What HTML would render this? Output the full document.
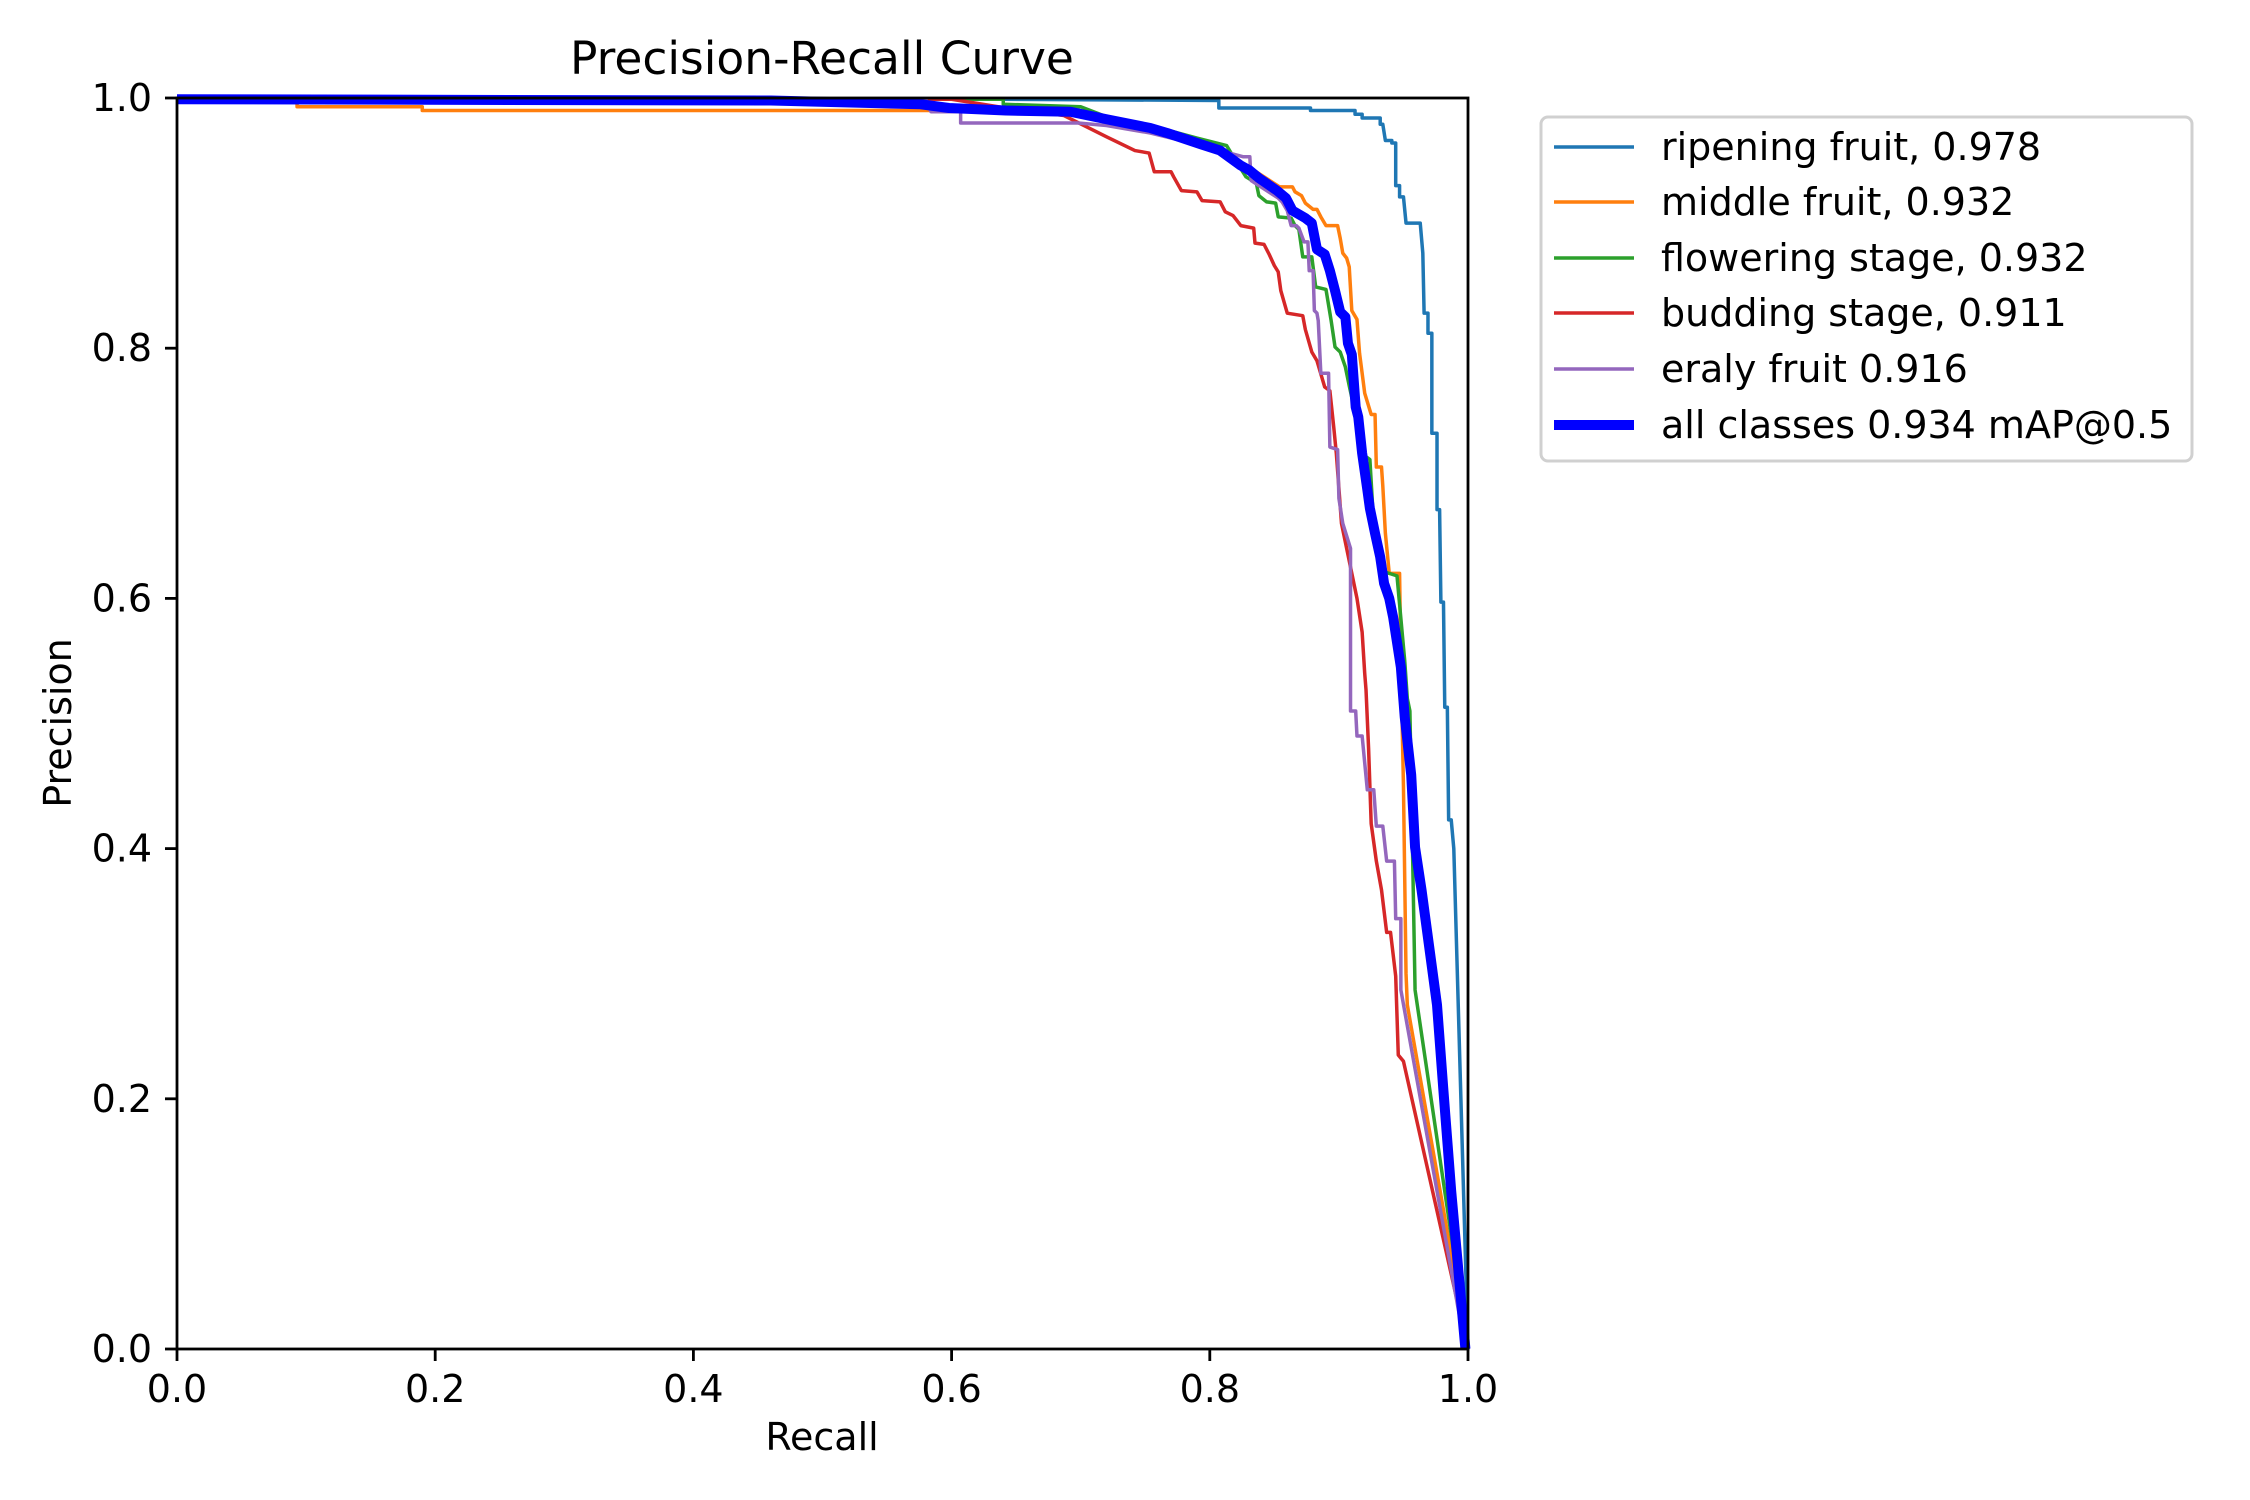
<!DOCTYPE html>
<html><head><meta charset="utf-8"><style>
html,body{margin:0;padding:0;background:#fff;}
svg{display:block;font-family:"DejaVu Sans","Liberation Sans",sans-serif;}
</style></head><body>
<svg width="2250" height="1500" viewBox="0 0 2250 1500" xmlns="http://www.w3.org/2000/svg">
<rect width="2250" height="1500" fill="#fff"/>
<g fill="none" stroke-linejoin="round" stroke-linecap="butt">
<g transform="matrix(1291 0 0 -1251 177 1349)">
<polyline vector-effect="non-scaling-stroke" stroke="#1f77b4" stroke-width="3.5" points="0,0.999 0.64,0.999 0.807,0.998 0.807,0.992 0.878,0.992 0.878,0.990 0.9125,0.990 0.9125,0.987 0.918,0.987 0.918,0.984 0.932,0.984 0.932,0.979 0.934,0.979 0.936,0.966 0.941,0.966 0.941,0.964 0.944,0.964 0.944,0.930 0.947,0.930 0.947,0.921 0.950,0.921 0.952,0.900 0.963,0.900 0.965,0.876 0.966,0.828 0.969,0.828 0.969,0.812 0.972,0.812 0.972,0.732 0.976,0.732 0.976,0.671 0.978,0.671 0.979,0.597 0.981,0.597 0.982,0.513 0.984,0.513 0.985,0.423 0.987,0.423 0.989,0.40 1.0,0.0"/>
<polyline vector-effect="non-scaling-stroke" stroke="#ff7f0e" stroke-width="3.5" points="0,0.999 0.093,0.999 0.093,0.993 0.19,0.993 0.19,0.990 0.575,0.990 0.62,0.990 0.70,0.988 0.75,0.978 0.80,0.962 0.83,0.945 0.854,0.929 0.864,0.929 0.866,0.925 0.871,0.922 0.874,0.916 0.880,0.911 0.883,0.911 0.886,0.905 0.890,0.898 0.899,0.898 0.901,0.888 0.903,0.876 0.906,0.872 0.908,0.865 0.910,0.830 0.914,0.823 0.916,0.796 0.920,0.764 0.925,0.747 0.928,0.747 0.929,0.705 0.933,0.705 0.934,0.690 0.936,0.652 0.939,0.62 0.947,0.62 0.948,0.55 0.950,0.45 0.952,0.30 0.953,0.275 1.0,0.0"/>
<polyline vector-effect="non-scaling-stroke" stroke="#2ca02c" stroke-width="3.5" points="0,0.999 0.64,0.999 0.64,0.995 0.70,0.993 0.72,0.985 0.754,0.978 0.79,0.968 0.813,0.962 0.820,0.950 0.828,0.937 0.836,0.932 0.838,0.922 0.844,0.917 0.851,0.916 0.853,0.905 0.863,0.904 0.866,0.898 0.869,0.895 0.872,0.873 0.879,0.873 0.882,0.849 0.890,0.847 0.894,0.822 0.897,0.801 0.901,0.797 0.905,0.785 0.908,0.770 0.915,0.737 0.920,0.714 0.924,0.711 0.926,0.676 0.928,0.641 0.936,0.621 0.945,0.618 0.951,0.55 0.953,0.52 0.955,0.51 0.957,0.40 0.959,0.287 1.0,0.0"/>
<polyline vector-effect="non-scaling-stroke" stroke="#d62728" stroke-width="3.5" points="0,0.999 0.60,0.999 0.642,0.992 0.687,0.986 0.72,0.969 0.742,0.958 0.753,0.956 0.757,0.941 0.770,0.941 0.772,0.937 0.778,0.926 0.790,0.925 0.794,0.918 0.808,0.917 0.812,0.909 0.818,0.906 0.824,0.898 0.834,0.896 0.835,0.884 0.842,0.883 0.846,0.875 0.850,0.866 0.853,0.861 0.855,0.846 0.860,0.828 0.872,0.826 0.874,0.815 0.879,0.797 0.883,0.790 0.889,0.769 0.893,0.766 0.896,0.737 0.898,0.716 0.902,0.66 0.906,0.64 0.910,0.62 0.914,0.60 0.918,0.573 0.920,0.54 0.921,0.527 0.923,0.48 0.925,0.42 0.929,0.39 0.933,0.367 0.937,0.333 0.940,0.333 0.944,0.298 0.946,0.235 0.950,0.23 1.0,0.0"/>
<polyline vector-effect="non-scaling-stroke" stroke="#9467bd" stroke-width="3.5" points="0,0.999 0.58,0.999 0.584,0.989 0.607,0.989 0.607,0.980 0.698,0.980 0.72,0.978 0.754,0.972 0.79,0.963 0.826,0.953 0.831,0.953 0.832,0.934 0.853,0.920 0.856,0.917 0.860,0.910 0.863,0.898 0.867,0.898 0.869,0.896 0.873,0.885 0.876,0.885 0.877,0.862 0.880,0.862 0.881,0.830 0.883,0.828 0.884,0.822 0.886,0.780 0.892,0.780 0.893,0.721 0.899,0.719 0.900,0.680 0.903,0.66 0.909,0.64 0.909,0.51 0.913,0.51 0.914,0.49 0.918,0.49 0.922,0.447 0.927,0.447 0.929,0.418 0.934,0.418 0.937,0.39 0.943,0.39 0.944,0.344 0.948,0.344 0.948,0.287 0.998,0.0"/>
<polyline vector-effect="non-scaling-stroke" stroke="#0000ff" stroke-width="10" points="0,0.999 0.46,0.998 0.576,0.995 0.598,0.992 0.642,0.990 0.692,0.989 0.72,0.983 0.754,0.976 0.767,0.972 0.793,0.963 0.808,0.958 0.816,0.952 0.824,0.946 0.831,0.942 0.838,0.936 0.852,0.926 0.859,0.920 0.864,0.910 0.874,0.904 0.879,0.900 0.883,0.879 0.889,0.875 0.893,0.862 0.897,0.846 0.901,0.829 0.905,0.825 0.907,0.804 0.910,0.795 0.913,0.753 0.915,0.745 0.918,0.716 0.922,0.687 0.924,0.672 0.928,0.652 0.932,0.633 0.935,0.612 0.939,0.600 0.942,0.585 0.948,0.545 0.951,0.505 0.956,0.459 0.959,0.401 0.964,0.367 0.970,0.321 0.976,0.275 0.981,0.206 0.987,0.126 0.992,0.069 0.998,0.0"/>
</g>
<rect x="177" y="98" width="1291" height="1251" stroke="#000" stroke-width="2.8" stroke-linejoin="miter"/>
<g stroke="#000" stroke-width="2.8">
<line x1="177" y1="1349" x2="177" y2="1361"/><line x1="435.2" y1="1349" x2="435.2" y2="1361"/><line x1="693.4" y1="1349" x2="693.4" y2="1361"/><line x1="951.6" y1="1349" x2="951.6" y2="1361"/><line x1="1209.8" y1="1349" x2="1209.8" y2="1361"/><line x1="1468" y1="1349" x2="1468" y2="1361"/>
<line x1="165" y1="1349" x2="177" y2="1349"/><line x1="165" y1="1098.8" x2="177" y2="1098.8"/><line x1="165" y1="848.6" x2="177" y2="848.6"/><line x1="165" y1="598.4" x2="177" y2="598.4"/><line x1="165" y1="348.2" x2="177" y2="348.2"/><line x1="165" y1="98" x2="177" y2="98"/>
</g>
</g>
<g font-size="38" fill="#000">
<g text-anchor="middle">
<text x="177" y="1402">0.0</text><text x="435.2" y="1402">0.2</text><text x="693.4" y="1402">0.4</text><text x="951.6" y="1402">0.6</text><text x="1209.8" y="1402">0.8</text><text x="1468" y="1402">1.0</text>
</g>
<g text-anchor="end" dominant-baseline="central">
<text x="152" y="1349">0.0</text><text x="152" y="1098.8">0.2</text><text x="152" y="848.6">0.4</text><text x="152" y="598.4">0.6</text><text x="152" y="348.2">0.8</text><text x="152" y="98">1.0</text>
</g>
<text x="822" y="1450" text-anchor="middle">Recall</text>
<text transform="translate(71,723) rotate(-90)" text-anchor="middle">Precision</text>
<text x="822" y="74" text-anchor="middle" font-size="45.5">Precision-Recall Curve</text>
</g>
<rect x="1541" y="117" width="651" height="344" rx="7" fill="#fff" stroke="#d0d0d0" stroke-width="3"/>
<g stroke-width="3.5">
<line x1="1554" y1="147" x2="1634" y2="147" stroke="#1f77b4"/>
<line x1="1554" y1="202" x2="1634" y2="202" stroke="#ff7f0e"/>
<line x1="1554" y1="258" x2="1634" y2="258" stroke="#2ca02c"/>
<line x1="1554" y1="313" x2="1634" y2="313" stroke="#d62728"/>
<line x1="1554" y1="369" x2="1634" y2="369" stroke="#9467bd"/>
<line x1="1554" y1="425" x2="1634" y2="425" stroke="#0000ff" stroke-width="10"/>
</g>
<g font-size="38" fill="#000" dominant-baseline="central">
<text x="1661" y="147">ripening fruit, 0.978</text>
<text x="1661" y="202">middle fruit, 0.932</text>
<text x="1661" y="258">flowering stage, 0.932</text>
<text x="1661" y="313">budding stage, 0.911</text>
<text x="1661" y="369">eraly fruit 0.916</text>
<text x="1661" y="425">all classes 0.934 mAP@0.5</text>
</g>
</svg>
</body></html>
